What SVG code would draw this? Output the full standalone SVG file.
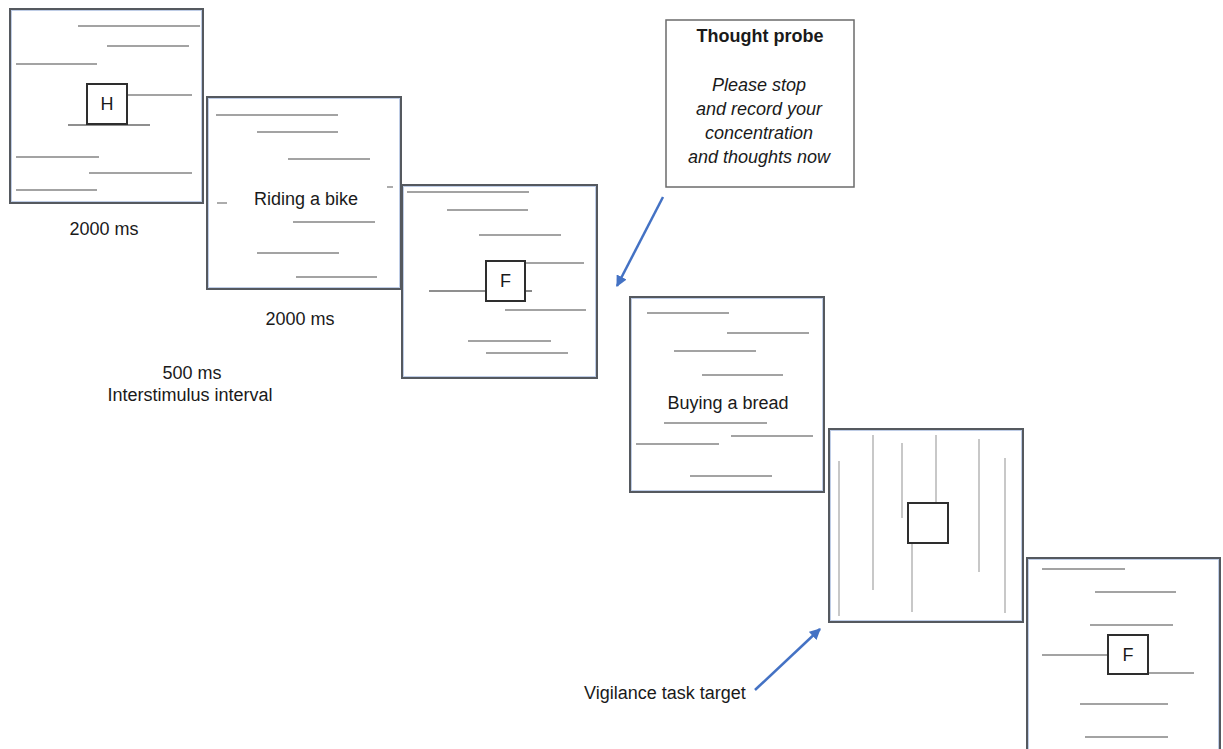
<svg xmlns="http://www.w3.org/2000/svg" width="1223" height="749" viewBox="0 0 1223 749">
<style>
  .frame { fill: #ffffff; stroke: #55595f; stroke-width: 2; }
  .inner { fill: none; stroke: #bfcde6; stroke-width: 1; }
  .gl { stroke: #a3a3a3; stroke-width: 1.8; fill: none; }
  .vl { stroke: #c2c2c2; stroke-width: 1.8; fill: none; }
  .dl { stroke: #6a6a6a; stroke-width: 1.6; fill: none; }
  .box { fill: #ffffff; stroke: #2e2e2e; stroke-width: 2; }
  .t { font-family: "Liberation Sans", Arial, sans-serif; font-size: 18px; fill: #1a1a1a; }
  .c { text-anchor: middle; }
  .b { font-weight: bold; }
  .i { font-style: italic; }
  .arrow { stroke: #4472c4; stroke-width: 2.5; fill: none; }
</style>
<defs>
  <marker id="ah" viewBox="0 0 10 10" refX="9" refY="5" markerWidth="4.5" markerHeight="4.5" orient="auto" markerUnits="strokeWidth">
    <path d="M0,0 L10,5 L0,10 z" fill="#4472c4"/>
  </marker>
</defs>

<g id="panel1">
  <rect class="frame" x="10" y="9" width="193" height="194"/>
  <rect class="inner" x="11.5" y="10.5" width="190" height="191"/>
  <line class="gl" x1="78" y1="26" x2="200" y2="26"/>
  <line class="gl" x1="107" y1="46" x2="189" y2="46"/>
  <line class="gl" x1="16" y1="64" x2="97" y2="64"/>
  <line class="gl" x1="127" y1="95" x2="192" y2="95"/>
  <line class="dl" x1="68" y1="125" x2="150" y2="125"/>
  <line class="gl" x1="16" y1="157" x2="99" y2="157"/>
  <line class="gl" x1="89" y1="173" x2="192" y2="173"/>
  <line class="gl" x1="16" y1="190" x2="97" y2="190"/>
  <rect class="box" x="87" y="84" width="40" height="40"/>
  <text class="t c" x="107" y="110">H</text>
</g>
<text class="t c" x="104" y="235">2000 ms</text>

<g id="panel2">
  <rect class="frame" x="207" y="97" width="194" height="192"/>
  <rect class="inner" x="208.5" y="98.5" width="191" height="189"/>
  <line class="gl" x1="216" y1="115" x2="338" y2="115"/>
  <line class="gl" x1="257" y1="132" x2="338" y2="132"/>
  <line class="gl" x1="288" y1="159" x2="370" y2="159"/>
  <line class="gl" x1="387" y1="187" x2="393" y2="187"/>
  <line class="gl" x1="217" y1="203" x2="227" y2="203"/>
  <line class="gl" x1="293" y1="222" x2="375" y2="222"/>
  <line class="gl" x1="257" y1="253" x2="339" y2="253"/>
  <line class="gl" x1="296" y1="277" x2="377" y2="277"/>
  <text class="t c" x="306" y="205">Riding a bike</text>
</g>
<text class="t c" x="300" y="325">2000 ms</text>

<text class="t c" x="192" y="379">500 ms</text>
<text class="t c" x="190" y="401">Interstimulus interval</text>

<g id="panel3">
  <rect class="frame" x="402" y="185" width="195" height="193"/>
  <rect class="inner" x="403.5" y="186.5" width="192" height="190"/>
  <line class="gl" x1="407" y1="192" x2="529" y2="192"/>
  <line class="gl" x1="447" y1="210" x2="528" y2="210"/>
  <line class="gl" x1="479" y1="235" x2="561" y2="235"/>
  <line class="gl" x1="525" y1="263" x2="584" y2="263"/>
  <line class="dl" x1="429" y1="291" x2="486" y2="291"/>
  <line class="dl" x1="525" y1="291" x2="532" y2="291"/>
  <line class="gl" x1="505" y1="310" x2="586" y2="310"/>
  <line class="gl" x1="468" y1="341" x2="551" y2="341"/>
  <line class="gl" x1="486" y1="353" x2="568" y2="353"/>
  <rect class="box" x="486" y="261" width="39" height="40"/>
  <text class="t c" x="505.5" y="287">F</text>
</g>

<g id="probe">
  <rect x="666" y="20" width="188" height="167" fill="#ffffff" stroke="#6b6b6b" stroke-width="1.5"/>
  <text class="t c b" x="760" y="42">Thought probe</text>
  <text class="t c i" x="759" y="91">Please stop</text>
  <text class="t c i" x="759" y="115">and record your</text>
  <text class="t c i" x="759" y="139">concentration</text>
  <text class="t c i" x="759" y="163">and thoughts now</text>
</g>

<g id="panel5">
  <rect class="frame" x="630" y="297" width="194" height="195"/>
  <rect class="inner" x="631.5" y="298.5" width="191" height="192"/>
  <line class="gl" x1="647" y1="313" x2="729" y2="313"/>
  <line class="gl" x1="727" y1="333" x2="809" y2="333"/>
  <line class="gl" x1="674" y1="351" x2="756" y2="351"/>
  <line class="gl" x1="702" y1="375" x2="783" y2="375"/>
  <line class="gl" x1="664" y1="423" x2="767" y2="423"/>
  <line class="gl" x1="731" y1="436" x2="813" y2="436"/>
  <line class="gl" x1="636" y1="444" x2="719" y2="444"/>
  <line class="gl" x1="690" y1="476" x2="772" y2="476"/>
  <text class="t c" x="728" y="409">Buying a bread</text>
</g>

<g id="panel6">
  <rect class="frame" x="829" y="429" width="194" height="193"/>
  <rect class="inner" x="830.5" y="430.5" width="191" height="190"/>
  <line class="vl" x1="839" y1="461" x2="839" y2="616"/>
  <line class="vl" x1="873" y1="435" x2="873" y2="590"/>
  <line class="vl" x1="902" y1="443" x2="902" y2="518"/>
  <line class="vl" x1="936" y1="435" x2="936" y2="503"/>
  <line class="vl" x1="912" y1="543" x2="912" y2="612"/>
  <line class="vl" x1="979" y1="439" x2="979" y2="572"/>
  <line class="vl" x1="1005" y1="458" x2="1005" y2="613"/>
  <rect class="box" x="908" y="503" width="40" height="40"/>
</g>

<g id="panel7">
  <rect class="frame" x="1027" y="558" width="193" height="210"/>
  <rect class="inner" x="1028.5" y="559.5" width="190" height="207"/>
  <line class="gl" x1="1042" y1="569" x2="1125" y2="569"/>
  <line class="gl" x1="1095" y1="592" x2="1176" y2="592"/>
  <line class="gl" x1="1090" y1="625" x2="1173" y2="625"/>
  <line class="gl" x1="1042" y1="655" x2="1108" y2="655"/>
  <line class="gl" x1="1148" y1="673" x2="1194" y2="673"/>
  <line class="gl" x1="1080" y1="704" x2="1168" y2="704"/>
  <line class="gl" x1="1085" y1="737" x2="1168" y2="737"/>
  <rect class="box" x="1108" y="635" width="40" height="39"/>
  <text class="t c" x="1128" y="661">F</text>
</g>

<text class="t" x="584" y="699">Vigilance task target</text>

<g id="connectors">
  <line class="arrow" x1="663" y1="197" x2="617" y2="286" marker-end="url(#ah)"/>
  <line class="arrow" x1="755" y1="690" x2="820" y2="629" marker-end="url(#ah)"/>
</g>
</svg>
